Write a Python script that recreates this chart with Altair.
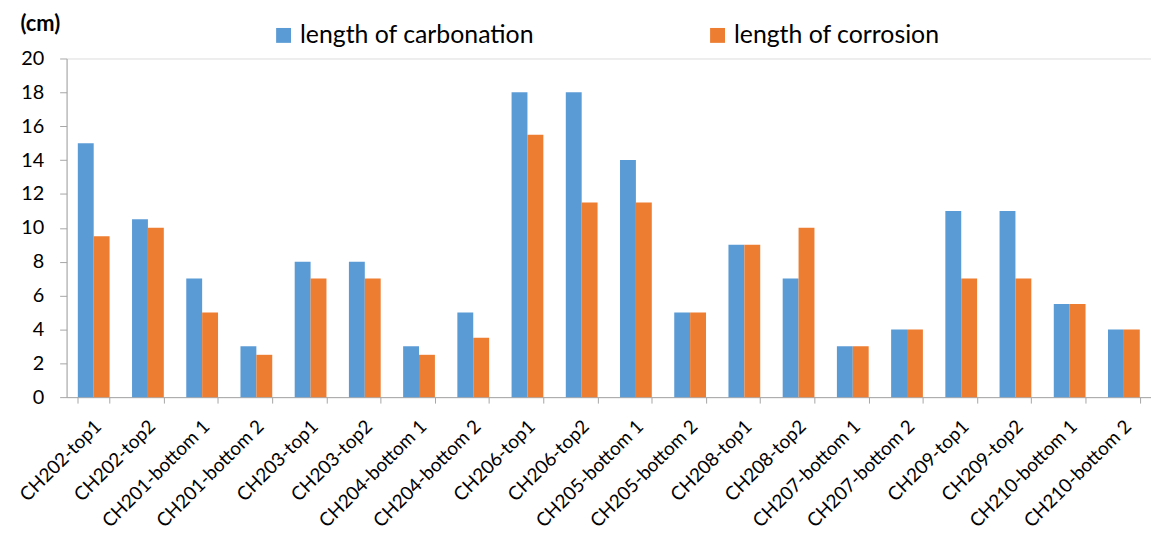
import altair as alt
import pandas as pd

categories = ["CH202-top1", "CH202-top2", "CH201-bottom 1", "CH201-bottom 2",
              "CH203-top1", "CH203-top2", "CH204-bottom 1", "CH204-bottom 2",
              "CH206-top1", "CH206-top2", "CH205-bottom 1", "CH205-bottom 2",
              "CH208-top1", "CH208-top2", "CH207-bottom 1", "CH207-bottom 2",
              "CH209-top1", "CH209-top2", "CH210-bottom 1", "CH210-bottom 2"]
carbonation = [15, 10.5, 7, 3, 8, 8, 3, 5, 18, 18, 14, 5, 9, 7, 3, 4, 11, 11, 5.5, 4]
corrosion = [9.5, 10, 5, 2.5, 7, 7, 2.5, 3.5, 15.5, 11.5, 11.5, 5, 9, 10, 3, 4, 7, 7, 5.5, 4]
series = ["length of carbonation", "length of corrosion"]
colors = ["#5B9BD5", "#ED7D31"]

rows = []
for c, a, b in zip(categories, carbonation, corrosion):
    rows.append({"cat": c, "series": series[0], "value": a})
    rows.append({"cat": c, "series": series[1], "value": b})
df = pd.DataFrame(rows)

FONT = "Lato"
AXIS_COLOR = "#A6A6A6"

chart = alt.Chart(df).mark_bar().encode(
    x=alt.X("cat:N", sort=categories,
            scale=alt.Scale(paddingInner=0.414, paddingOuter=0.207),
            axis=alt.Axis(title=None, labelAngle=-45, labelAlign="right",
                          labelBaseline="middle", labelPadding=20, labelOffset=4,
                          labelFontSize=19, labelColor="#000000", labelFont=FONT,
                          labelLimit=300,
                          domainColor=AXIS_COLOR, tickColor=AXIS_COLOR,
                          tickSize=6, tickBand="extent", labelOverlap=False)),
    xOffset=alt.XOffset("series:N", sort=series),
    y=alt.Y("value:Q", scale=alt.Scale(domain=[0, 20], nice=False),
            axis=alt.Axis(values=list(range(0, 21, 2)), grid=False,
                          title="(cm)", titleAngle=0, titleAlign="left",
                          titleBaseline="middle", titleX=-47, titleY=-35,
                          titleFontSize=22, titleFontWeight="bold", titleFont=FONT,
                          titleColor="#000000",
                          labelFontSize=20, labelColor="#000000", labelFont=FONT,
                          labelPadding=16,
                          domainColor=AXIS_COLOR, tickColor=AXIS_COLOR, tickSize=7)),
    color=alt.Color("series:N", sort=series,
                    scale=alt.Scale(domain=series, range=colors),
                    legend=alt.Legend(title=None, orient="none", direction="horizontal",
                                      legendX=206, legendY=-36,
                                      symbolType="square", symbolSize=225,
                                      symbolStrokeWidth=0, symbolOffset=0,
                                      labelFontSize=25, labelFont=FONT,
                                      labelColor="#000000", labelOffset=4,
                                      labelLimit=400,
                                      columnPadding=172)),
).properties(
    width=1092, height=341,
    padding={"left": 59, "top": 49, "right": 0, "bottom": 140},
    autosize=alt.AutoSizeParams(type="none"),
).configure_view(stroke=None).configure(background="white")

chart.save("out.html", embed_options={"renderer": "svg", "actions": False})
